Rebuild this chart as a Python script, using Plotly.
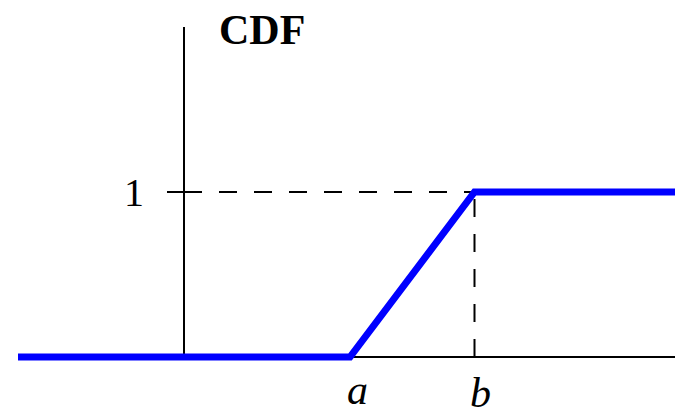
import plotly.graph_objects as go

# Uniform distribution on [a, b]: piecewise-linear CDF
a_val = 2.0
b_val = 3.5
cdf_x = [-2.0, a_val, b_val, 6.0]
cdf_y = [0.0, 0.0, 1.0, 1.0]

# Axes extents (data units)
x_axis_span = [-2.0, 6.0]
y_axis_span = [0.0, 2.0]
y_tick_value = 1.0
y_tick_label = "1"
x_tick_labels = ["a", "b"]
y_title = "CDF"

# Scale: 83 px per x unit, 165 px per y unit, origin at (184, 357) in a 675x416 canvas
W, H = 675, 416
x0_px, y0_px, sx, sy = 184, 357, 83.0, 165.0
x_range = [(0 - x0_px) / sx, (W - x0_px) / sx]
y_range = [(y0_px - H) / sy, (y0_px - 0) / sy]

fig = go.Figure()

black = dict(color="black", width=2)

# x axis line
fig.add_trace(go.Scatter(x=x_axis_span, y=[0, 0], mode="lines", line=black, hoverinfo="skip"))
# y axis line
fig.add_trace(go.Scatter(x=[0, 0], y=y_axis_span, mode="lines", line=black, hoverinfo="skip"))
# tick mark at y = 1
fig.add_trace(go.Scatter(x=[-17 / sx, 18 / sx], y=[y_tick_value, y_tick_value],
                         mode="lines", line=black, hoverinfo="skip"))
# dashed guide from the tick to (b, 1)
fig.add_trace(go.Scatter(x=[35 / sx, b_val], y=[y_tick_value, y_tick_value], mode="lines",
                         line=dict(color="black", width=2, dash="18px,17px"), hoverinfo="skip"))
# dashed drop from (b, 1) to the x axis
fig.add_trace(go.Scatter(x=[b_val, b_val], y=[0, y_tick_value], mode="lines",
                         line=dict(color="black", width=2, dash="18px,17px"), hoverinfo="skip"))
# the CDF itself
fig.add_trace(go.Scatter(x=cdf_x, y=cdf_y, mode="lines",
                         line=dict(color="#0000FF", width=7), hoverinfo="skip"))

serif = "'Liberation Serif', 'Times New Roman', Times, serif"
fig.add_annotation(x=-0.60, y=y_tick_value, text=y_tick_label, showarrow=False,
                   font=dict(family=serif, size=40, color="black"), xanchor="center", yanchor="middle")
fig.add_annotation(x=(262 - x0_px) / sx, y=(y0_px - 30) / sy, text="<b>%s</b>" % y_title, showarrow=False,
                   font=dict(family=serif, size=42, color="black"), xanchor="center", yanchor="middle")
fig.add_annotation(x=a_val + 7 / sx, y=-0.20, text="<i>%s</i>" % x_tick_labels[0], showarrow=False,
                   font=dict(family=serif, size=42, color="black"), xanchor="center", yanchor="middle")
fig.add_annotation(x=b_val + 6 / sx, y=-0.22, text="<i>%s</i>" % x_tick_labels[1], showarrow=False,
                   font=dict(family=serif, size=42, color="black"), xanchor="center", yanchor="middle")

fig.update_layout(
    width=W, height=H,
    margin=dict(l=0, r=0, t=0, b=0),
    paper_bgcolor="white", plot_bgcolor="white",
    showlegend=False,
    xaxis=dict(range=x_range, visible=False, fixedrange=True),
    yaxis=dict(range=y_range, visible=False, fixedrange=True),
)

fig.write_html("out.html")
